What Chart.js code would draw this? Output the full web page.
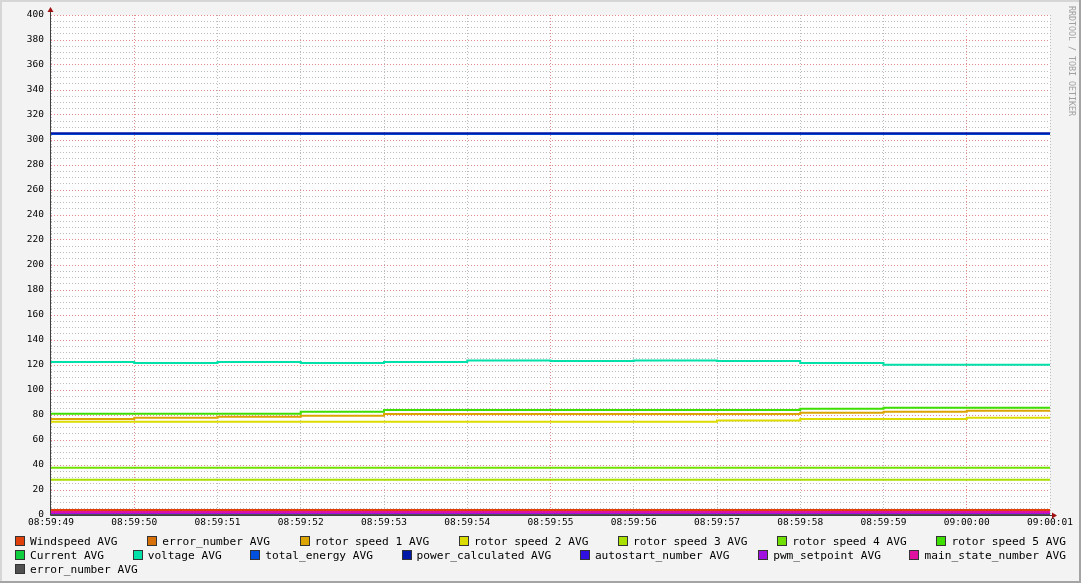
<!DOCTYPE html>
<html>
<head>
<meta charset="utf-8">
<script src="https://cdn.jsdelivr.net/npm/chart.js@4"></script>
<style>
  html, body { margin: 0; padding: 0; background: #f3f3f3; }
  #wrap { position: relative; width: 1081px; height: 583px; overflow: hidden; }
  #graph { position: absolute; left: 0; top: 0; }
  .edge { position: absolute; pointer-events: none; }
  #legend { position: absolute; left: 15px; top: 534px; width: 1051px;
            font-family: 'DejaVu Sans Mono', monospace; font-size: 11.2px; color: #000; }
  .row { display: flex; height: 14px; align-items: center; }
  .row.spread { justify-content: space-between; }
  .item { display: flex; align-items: center; white-space: pre; }
  .box { width: 8px; height: 8px; border: 1px solid #333; margin-right: 5px; }
  #mark { position: absolute; left: 1067px; top: 6px; writing-mode: vertical-rl;
          font-family: 'DejaVu Sans Mono', monospace; font-size: 8.3px; color: #a0a0a0; }
</style>
</head>
<body>
<div id="wrap">
  <canvas id="graph" width="1081" height="583"></canvas>
  <div class="edge" style="left:0;top:0;width:1081px;height:2px;background:#d6d6d6"></div>
  <div class="edge" style="left:0;top:0;width:2px;height:583px;background:#d6d6d6"></div>
  <div class="edge" style="right:0;top:0;width:2px;height:583px;background:#a4a4a4"></div>
  <div class="edge" style="left:0;bottom:0;width:1081px;height:2px;background:#a4a4a4"></div>
  <div id="mark">RRDTOOL / TOBI OETIKER</div>
  <div id="legend"></div>
</div>
<script>
// one sample per second, value holds until the next sample
const timeLabels = ['08:59:49', '08:59:50', '08:59:51', '08:59:52', '08:59:53', '08:59:54', '08:59:55',
                    '08:59:56', '08:59:57', '08:59:58', '08:59:59', '09:00:00', '09:00:01'];

const windspeed      = [4, 4, 4, 4, 4, 4, 4, 4, 4, 4, 4, 4, 4];
const errorNumber    = [0, 0, 0, 0, 0, 0, 0, 0, 0, 0, 0, 0, 0];
const rotorSpeed1    = [76.8, 77.9, 78.7, 79.5, 80.8, 80.8, 80.8, 80.8, 80.8, 81.9, 82.7, 83.5, 83.5];
const rotorSpeed2    = [74.7, 74.7, 74.7, 74.7, 74.7, 74.7, 74.7, 74.7, 75.7, 76.8, 76.8, 77.9, 77.9];
const rotorSpeed3    = [28.3, 28.3, 28.3, 28.3, 28.3, 28.3, 28.3, 28.3, 28.3, 28.3, 28.3, 28.3, 28.3];
const rotorSpeed4    = [37.9, 37.9, 37.9, 37.9, 37.9, 37.9, 37.9, 37.9, 37.9, 37.9, 37.9, 37.9, 37.9];
const rotorSpeed5    = [81, 81, 81, 82.7, 84, 84, 84, 84, 84, 85, 85.9, 85.9, 85.9];
const current        = [0, 0, 0, 0, 0, 0, 0, 0, 0, 0, 0, 0, 0];
const voltage        = [122.4, 121.6, 122.4, 121.6, 122.4, 123.7, 123.2, 123.7, 123.2, 121.6, 120.3, 120.3, 120.3];
const totalEnergy    = [304.8, 304.8, 304.8, 304.8, 304.8, 304.8, 304.8, 304.8, 304.8, 304.8, 304.8, 304.8, 304.8];
const powerCalc      = [305.4, 305.4, 305.4, 305.4, 305.4, 305.4, 305.4, 305.4, 305.4, 305.4, 305.4, 305.4, 305.4];
const autostart      = [0, 0, 0, 0, 0, 0, 0, 0, 0, 0, 0, 0, 0];
const pwmSetpoint    = [1, 1, 1, 1, 1, 1, 1, 1, 1, 1, 1, 1, 1];
const mainState      = [2.5, 2.5, 2.5, 2.5, 2.5, 2.5, 2.5, 2.5, 2.5, 2.5, 2.5, 2.5, 2.5];
const errorNumber2   = [0, 0, 0, 0, 0, 0, 0, 0, 0, 0, 0, 0, 0];

const seriesNames = ['Windspeed AVG', 'error_number AVG', 'rotor speed 1 AVG', 'rotor speed 2 AVG',
                     'rotor speed 3 AVG', 'rotor speed 4 AVG', 'rotor speed 5 AVG', 'Current AVG',
                     'voltage AVG', 'total_energy AVG', 'power_calculated AVG', 'autostart_number AVG',
                     'pwm_setpoint AVG', 'main_state_number AVG', 'error_number AVG'];
const seriesValues = [windspeed, errorNumber, rotorSpeed1, rotorSpeed2, rotorSpeed3, rotorSpeed4, rotorSpeed5,
                      current, voltage, totalEnergy, powerCalc, autostart, pwmSetpoint, mainState, errorNumber2];
const seriesColors = ['#e0400b', '#d8700a', '#dca400', '#dcdc00', '#a8e000', '#70e000', '#3ede00',
                      '#10d040', '#00e0a8', '#0050e0', '#0018a8', '#3010e0', '#a010e0', '#e010a0', '#505050'];
const legendRows = [[0, 1, 2, 3, 4, 5, 6], [7, 8, 9, 10, 11, 12, 13], [14]];

const monoFont = 'DejaVu Sans Mono';
const majorGrid = '#e48888';
const minorGrid = '#bcbcbc';

// rrd style: grey page, white plot, axes with little red arrows
const rrdFrame = {
    id: 'rrdFrame',
    beforeDraw(chart) {
        const c = chart.ctx, a = chart.chartArea;
        c.save();
        c.fillStyle = '#f3f3f3';
        c.fillRect(0, 0, chart.width, chart.height);
        c.fillStyle = '#ffffff';
        c.fillRect(a.left, a.top, a.right - a.left, a.bottom - a.top);
        c.restore();
    },
    afterDraw(chart) {
        const c = chart.ctx, a = chart.chartArea;
        c.save();
        c.strokeStyle = '#404040';
        c.lineWidth = 1;
        c.beginPath();
        c.moveTo(a.left - 0.5, a.top - 5);
        c.lineTo(a.left - 0.5, a.bottom + 0.5);
        c.lineTo(a.right + 5, a.bottom + 0.5);
        c.stroke();
        c.fillStyle = '#a01010';
        c.beginPath();
        c.moveTo(a.left - 3.5, a.top - 3);
        c.lineTo(a.left + 2.5, a.top - 3);
        c.lineTo(a.left - 0.5, a.top - 8);
        c.closePath();
        c.fill();
        c.beginPath();
        c.moveTo(a.right + 2, a.bottom - 2.5);
        c.lineTo(a.right + 2, a.bottom + 3.5);
        c.lineTo(a.right + 7, a.bottom + 0.5);
        c.closePath();
        c.fill();
        c.restore();
    }
};

const isMajorTime = (i) => i === 1 || i === 6 || i === 11;

const chart = new Chart(document.getElementById('graph'), {
    type: 'line',
    data: {
        labels: timeLabels,
        datasets: seriesNames.map((name, i) => ({
            label: name,
            data: seriesValues[i],
            borderColor: seriesColors[i],
            backgroundColor: seriesColors[i],
            borderWidth: 2,
            stepped: 'before',
            pointRadius: 0,
            fill: false,
            order: -i // later series sit on top, like rrdtool
        }))
    },
    options: {
        responsive: false,
        devicePixelRatio: 1,
        animation: false,
        layout: { padding: { left: 0, right: 31, top: 15, bottom: 0 } },
        plugins: {
            legend: { display: false },
            tooltip: { enabled: false }
        },
        scales: {
            x: {
                type: 'category',
                offset: false,
                afterFit: (scale) => { scale.height = 68; },
                grid: {
                    drawTicks: false,
                    color: (ctx) => isMajorTime(ctx.index) ? majorGrid : minorGrid
                },
                border: { display: false, dash: [1, 2] },
                ticks: {
                    autoSkip: false,
                    maxRotation: 0,
                    padding: 2,
                    color: '#000',
                    font: { family: monoFont, size: 9.5 }
                }
            },
            y: {
                min: 0,
                max: 400,
                afterFit: (scale) => { scale.width = 51; },
                grid: {
                    drawTicks: false,
                    color: (ctx) => (ctx.tick.value % 20 === 0) ? majorGrid : minorGrid
                },
                border: { display: false, dash: [1, 2] },
                ticks: {
                    stepSize: 5,
                    autoSkip: false,
                    padding: 7,
                    color: '#000',
                    font: { family: monoFont, size: 9.5 },
                    callback: (v) => (v % 20 === 0 ? v : '')
                }
            }
        }
    },
    plugins: [rrdFrame]
});

// legend rows, spread across the width like rrdtool does
const legendEl = document.getElementById('legend');
legendRows.forEach((row, r) => {
    const rowEl = document.createElement('div');
    rowEl.className = 'row' + (r < 2 ? ' spread' : '');
    row.forEach((i) => {
        const item = document.createElement('div');
        item.className = 'item';
        const box = document.createElement('span');
        box.className = 'box';
        box.style.background = chart.data.datasets[i].borderColor;
        item.appendChild(box);
        item.appendChild(document.createTextNode(chart.data.datasets[i].label));
        rowEl.appendChild(item);
    });
    legendEl.appendChild(rowEl);
});
</script>
</body>
</html>
